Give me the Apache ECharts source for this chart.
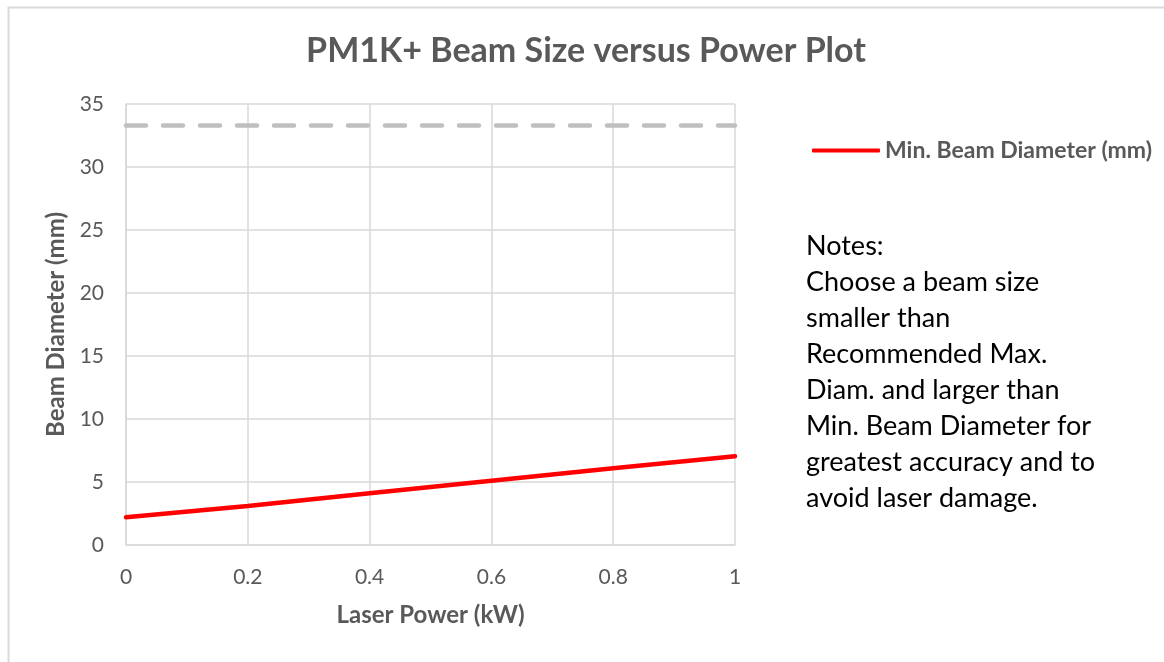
<!DOCTYPE html>
<html>
<head>
<meta charset="utf-8">
<script src="https://cdn.jsdelivr.net/npm/echarts@6/dist/echarts.min.js"></script>
<style>html,body{margin:0;padding:0;background:#fff}#c{width:1164px;height:662px}</style>
</head>
<body>
<div id="c"></div>
<script>
const titleText = 'PM1K+ Beam Size versus Power Plot';
const xName = 'Laser Power (kW)';
const yName = 'Beam Diameter (mm)';
const powerKW = [0, 0.2, 0.4, 0.6, 0.8, 1.0];
const minBeamDiameter = [2.2, 3.1, 4.1, 5.1, 6.1, 7.05];
const recMaxDiameter = [33.3, 33.3, 33.3, 33.3, 33.3, 33.3];
const seriesNames = ['Min. Beam Diameter (mm)', 'Recommended Max. Diam. (mm)'];
const notesLines = ['Notes:', 'Choose a beam size', 'smaller than', 'Recommended Max.', 'Diam. and larger than', 'Min. Beam Diameter for', 'greatest accuracy and to', 'avoid laser damage.'];

const FONT = 'Lato, "Open Sans", sans-serif';
const chart = echarts.init(document.getElementById('c'));
chart.setOption({
  animation: false,
  backgroundColor: '#fff',
  title: {
    text: titleText, left: 581, top: 29, textAlign: 'center',
    textStyle: { fontFamily: FONT, fontSize: 34, fontWeight: 'bold', color: '#595959' }
  },
  legend: {
    data: [seriesNames[0]], left: 807, top: 134, itemWidth: 68, itemHeight: 4, itemGap: 8,
    icon: 'roundRect',
    textStyle: { fontFamily: FONT, fontSize: 23, fontWeight: 'bold', color: '#595959' }
  },
  grid: { left: 126, top: 104, right: 429, bottom: 117, containLabel: false },
  xAxis: {
    type: 'value', min: 0, max: 1, interval: 0.2,
    name: xName, nameLocation: 'middle', nameGap: 58,
    nameTextStyle: { fontFamily: FONT, fontSize: 24, fontWeight: 'bold', color: '#595959' },
    axisLine: { show: true, lineStyle: { color: '#d9d9d9', width: 1.5 } },
    axisTick: { show: false },
    axisLabel: { fontFamily: FONT, fontSize: 21, color: '#595959', margin: 22, formatter: v => String(Math.round(v*10)/10) },
    splitLine: { show: true, lineStyle: { color: '#d9d9d9', width: 1.5 } }
  },
  yAxis: {
    type: 'value', min: 0, max: 35, interval: 5,
    name: yName, nameLocation: 'middle', nameGap: 54, nameRotate: 90,
    nameTextStyle: { fontFamily: FONT, fontSize: 24, fontWeight: 'bold', color: '#595959' },
    axisLine: { show: true, lineStyle: { color: '#d9d9d9', width: 1.5 } },
    axisTick: { show: false },
    axisLabel: { fontFamily: FONT, fontSize: 21, color: '#595959', margin: 22 },
    splitLine: { show: true, lineStyle: { color: '#d9d9d9', width: 1.5 } }
  },
  series: [
    {
      name: seriesNames[0], type: 'line', symbol: 'none',
      data: powerKW.map((x, i) => [x, minBeamDiameter[i]]),
      lineStyle: { color: '#ff0000', width: 4.5, cap: 'round' },
      itemStyle: { color: '#ff0000' }
    },
    {
      name: seriesNames[1], type: 'line', symbol: 'none',
      data: powerKW.map((x, i) => [x, recMaxDiameter[i]]),
      lineStyle: { color: '#bfbfbf', width: 4.5, type: [20, 17], cap: 'round' },
      itemStyle: { color: '#bfbfbf' }
    }
  ],
  graphic: [
    { type: 'rect', left: 6, top: 5, shape: { width: 1170, height: 670 }, style: { fill: 'none', stroke: '#d9d9d9', lineWidth: 2 }, silent: true, z: -1 },
    { type: 'text', left: 806, top: 228, style: { text: notesLines.join('\n'), fontFamily: FONT, fontSize: 27, lineHeight: 36, fill: '#000' } }
  ]
});
</script>
</body>
</html>
